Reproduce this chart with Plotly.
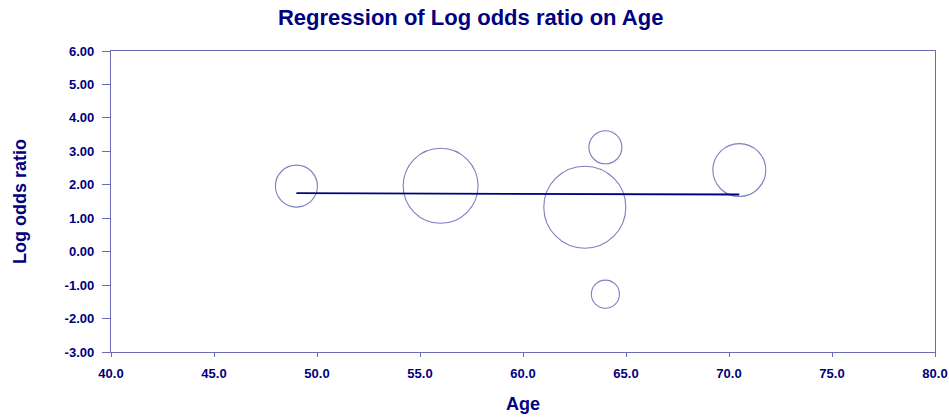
import plotly.graph_objects as go

age = [49.0, 56.0, 63.0, 64.0, 64.0, 70.5]
log_or = [1.96, 1.97, 1.33, 3.12, -1.27, 2.44]
weights = [9.4, 29.9, 35.8, 5.8, 4.2, 14.9]

reg_x = [49.0, 70.5]
reg_y = [1.75, 1.71]

x_ticks = [40, 45, 50, 55, 60, 65, 70, 75, 80]
y_ticks = [-3, -2, -1, 0, 1, 2, 3, 4, 5, 6]

navy = "#000080"
axis_col = "#6A6AB8"
font_fam = "Liberation Sans, Arial, sans-serif"

fig = go.Figure()
fig.add_trace(go.Scatter(
    x=age, y=log_or, mode="markers",
    marker=dict(size=weights, sizemode="area", sizeref=2 * 35.8 / 6724,
                color="rgba(0,0,0,0)",
                line=dict(color="#4848AA", width=1.1)),
    hoverinfo="x+y", showlegend=False))
fig.add_trace(go.Scatter(
    x=reg_x, y=reg_y, mode="lines",
    line=dict(color=navy, width=1.8), showlegend=False))

fig.update_layout(
    width=949, height=418,
    margin=dict(l=111, r=14, t=51, b=66, autoexpand=False),
    paper_bgcolor="white", plot_bgcolor="white",
    title=dict(text="<b>Regression of Log odds ratio on Age</b>",
               x=0.496, xanchor="center", y=0.978, yanchor="top",
               font=dict(family=font_fam, size=22, color=navy)),
    font=dict(family=font_fam, color=navy),
)
fig.update_xaxes(
    range=[40, 80], tickvals=x_ticks,
    ticktext=[f"<b>{v:.1f}</b>" for v in x_ticks],
    tickfont=dict(size=13, color=navy),
    showline=True, linecolor=axis_col, linewidth=1.3, mirror=True,
    ticks="outside", ticklen=4, tickcolor=axis_col, ticklabelstandoff=5,
    showgrid=False, zeroline=False,
    title=dict(text="<b>Age</b>", font=dict(size=18, color=navy), standoff=17),
)
fig.update_yaxes(
    range=[-3, 6], tickvals=y_ticks,
    ticktext=[f"<b>{v:.2f}</b>" for v in y_ticks],
    tickfont=dict(size=13, color=navy),
    showline=True, linecolor=axis_col, linewidth=1.3, mirror=True,
    ticks="outside", ticklen=8, tickcolor=axis_col, ticklabelstandoff=5,
    showgrid=False, zeroline=False,
    title=dict(text="<b>Log odds ratio</b>", font=dict(size=18, color=navy), standoff=33),
)

fig.write_html("out.html",
               config={"displayModeBar": False},
               post_script="document.body.style.margin='0';document.body.style.overflow='hidden';")
